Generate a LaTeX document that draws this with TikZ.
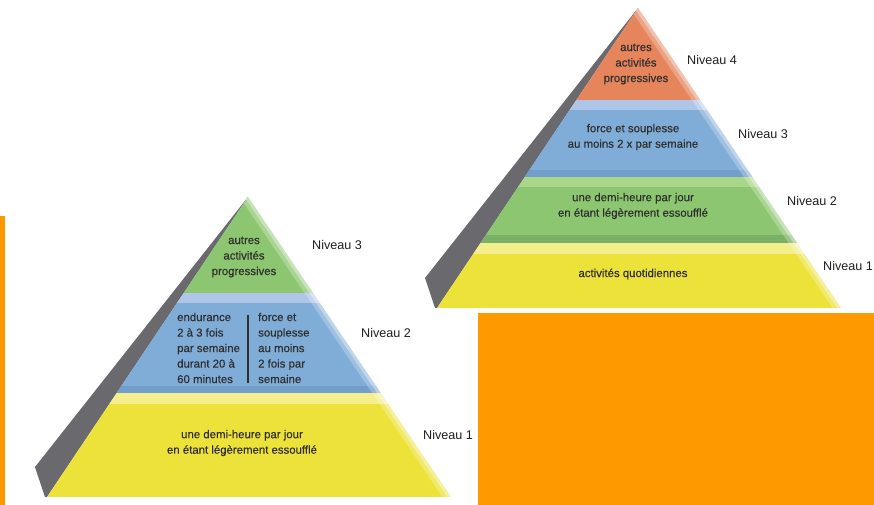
\documentclass[tikz,border=0pt]{standalone}
\usepackage{fontspec}
\setmainfont{Liberation Sans}
\newfontfamily\bandfont{Liberation Sans}[FakeBold=0.35]
\definecolor{bgorange}{RGB}{255,153,0}
\definecolor{grayface}{RGB}{106,106,110}
\definecolor{bandorange}{RGB}{230,132,92}
\definecolor{bandblue}{RGB}{128,172,216}
\definecolor{bandbluelight}{RGB}{176,198,232}
\definecolor{bandbluedark}{RGB}{114,158,204}
\definecolor{bandgreen}{RGB}{141,198,112}
\definecolor{bandgreenlight}{RGB}{170,214,138}
\definecolor{bandgreendark}{RGB}{122,176,102}
\definecolor{bandyellow}{RGB}{236,226,58}
\definecolor{bandyellowlight}{RGB}{244,238,140}
\definecolor{txt}{RGB}{46,46,46}
\begin{document}
\begin{tikzpicture}[x=1pt,y=-1pt,
  intext/.style={font=\bandfont\fontsize{11.4}{15.5}\selectfont, text=txt, align=center, inner sep=0pt},
  coltext/.style={font=\bandfont\fontsize{11.4}{15.5}\selectfont, text=txt, align=left, inner sep=0pt, anchor=west},
  lvl/.style={font=\fontsize{12.6}{15}\selectfont, text=black!88, anchor=west, inner sep=0pt},
  softedge/.style={draw=white, opacity=0.25, line width=14pt},
  softedgein/.style={draw=white, opacity=0.35, line width=6pt}]
\useasboundingbox (0,0) rectangle (874,505);
\fill[white] (0,0) rectangle (874,505);
% orange blocks
\fill[bgorange] (0,216) rectangle (5,505);
\fill[bgorange] (478,313) rectangle (874,505);

% ---------- right pyramid ----------
\begin{scope}[shift={(638,8)}]
  \coordinate (RA) at (0,0);
  \coordinate (RBL) at (-201,300);
  \coordinate (RBR) at (203,300);
  \fill[grayface] (RA) -- (-213,270) -- (-203,300) -- (RBL) -- cycle;
  \begin{scope}
    \clip (RA) -- (RBL) -- (RBR) -- cycle;
    \fill[bandorange] (-220,-5) rectangle (220,92);
    \fill[bandbluelight] (-220,92) rectangle (220,102);
    \fill[bandblue] (-220,102) rectangle (220,162);
    \fill[bandbluedark] (-220,162) rectangle (220,169);
    \fill[bandgreenlight] (-220,169) rectangle (220,179);
    \fill[bandgreen] (-220,179) rectangle (220,227);
    \fill[bandgreendark] (-220,227) rectangle (220,235);
    \fill[bandyellowlight] (-220,235) rectangle (220,246);
    \fill[bandyellow] (-220,246) rectangle (220,300);
    \draw[softedge] (RA) -- (RBR);
    \draw[softedgein] (RA) -- (RBR);
  \end{scope}
\end{scope}
\node[intext] (r4) at (636,64) {autres\\activités\\progressives};
\node[intext] (r3) at (633,137) {force et souplesse\\au moins 2 x par semaine};
\node[intext] (r2) at (633,206) {une demi-heure par jour\\en étant légèrement essoufflé};
\node[intext] (r1) at (633,274) {activités quotidiennes};
\node[lvl] (rn4) at (687,60) {Niveau 4};
\node[lvl] (rn3) at (738,134) {Niveau 3};
\node[lvl] (rn2) at (787,201) {Niveau 2};
\node[lvl] (rn1) at (823,266) {Niveau 1};

% ---------- left pyramid ----------
\begin{scope}[shift={(248,197)}]
  \coordinate (LA) at (0,0);
  \coordinate (LBL) at (-201,300);
  \coordinate (LBR) at (203,300);
  \fill[grayface] (LA) -- (-213,270) -- (-203,300) -- (LBL) -- cycle;
  \begin{scope}
    \clip (LA) -- (LBL) -- (LBR) -- cycle;
    \fill[bandgreen] (-220,-5) rectangle (220,96);
    \fill[bandbluelight] (-220,96) rectangle (220,106);
    \fill[bandblue] (-220,106) rectangle (220,189);
    \fill[bandbluedark] (-220,189) rectangle (220,196);
    \fill[bandyellowlight] (-220,196) rectangle (220,207);
    \fill[bandyellow] (-220,207) rectangle (220,300);
    \draw[softedge] (LA) -- (LBR);
    \draw[softedgein] (LA) -- (LBR);
  \end{scope}
\end{scope}
\node[intext] (l3) at (244,257) {autres\\activités\\progressives};
\node[coltext] (l2a) at (177,348) {endurance\\2 à 3 fois\\par semaine\\durant 20 à\\60 minutes};
\node[coltext] (l2b) at (258,348) {force et\\souplesse\\au moins\\2 fois par\\semaine};
\coordinate (divtop) at (248,315);
\coordinate (divbot) at (248,383);
\draw[txt, line width=1.6pt] (divtop) -- (divbot);
\node[intext] (l1) at (242,443) {une demi-heure par jour\\en étant légèrement essoufflé};
\node[lvl] (ln3) at (312,245) {Niveau 3};
\node[lvl] (ln2) at (361,333) {Niveau 2};
\node[lvl] (ln1) at (423,435) {Niveau 1};
\end{tikzpicture}
\end{document}
